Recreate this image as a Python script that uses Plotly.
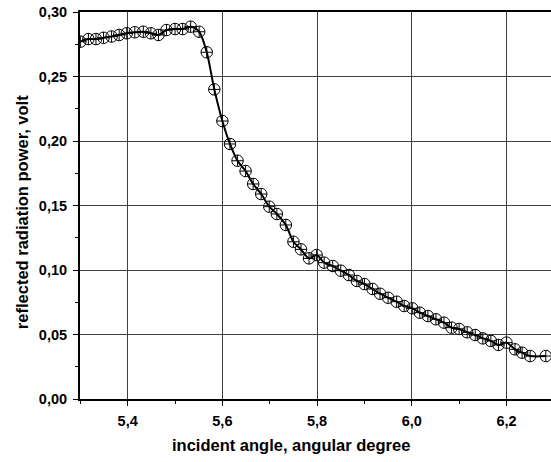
import plotly.graph_objects as go

angle = [5.300, 5.317, 5.333, 5.349, 5.366, 5.382, 5.398, 5.415, 5.433, 5.449,
         5.465, 5.482, 5.500, 5.516, 5.533, 5.551, 5.567, 5.583, 5.600, 5.616,
         5.632, 5.649, 5.665, 5.682, 5.699, 5.715, 5.734, 5.750, 5.766, 5.783,
         5.799, 5.815, 5.833, 5.850, 5.867, 5.884, 5.900, 5.917, 5.933, 5.950,
         5.968, 5.984, 6.001, 6.017, 6.034, 6.051, 6.068, 6.084, 6.100, 6.117,
         6.134, 6.150, 6.167, 6.183, 6.200, 6.218, 6.233, 6.250, 6.283]
power = [0.2770, 0.2790, 0.2790, 0.2800, 0.2810, 0.2822, 0.2835, 0.2843, 0.2847, 0.2835,
         0.2822, 0.2860, 0.2868, 0.2868, 0.2886, 0.2847, 0.2688, 0.2400, 0.2155, 0.1977,
         0.1847, 0.1767, 0.1667, 0.1589, 0.1491, 0.1434, 0.1349, 0.1219, 0.1160, 0.1090,
         0.1116, 0.1057, 0.1031, 0.0995, 0.0961, 0.0915, 0.0891, 0.0853, 0.0816, 0.0785,
         0.0754, 0.0721, 0.0703, 0.0669, 0.0643, 0.0618, 0.0592, 0.0553, 0.0543, 0.0517,
         0.0496, 0.0470, 0.0450, 0.0419, 0.0437, 0.0385, 0.0359, 0.0333, 0.0333]

x_title = "incident angle, angular degree"
y_title = "reflected radiation power, volt"

FONT = "Liberation Sans, Arial, sans-serif"

fig = go.Figure()
fig.add_trace(go.Scatter(
    x=angle, y=power, mode="lines+markers",
    line=dict(color="black", width=2, shape="spline", smoothing=0.8),
    marker=dict(symbol="circle-cross-open", size=11.5, color="black",
                line=dict(color="black", width=1)),
    showlegend=False,
))

axis_common = dict(
    showgrid=True, gridcolor="#404040", gridwidth=1,
    showline=True, linecolor="black",
    ticks="outside", ticklen=5, tickwidth=1, tickcolor="black",
    zeroline=False, ticklabelstandoff=3,
    tickfont=dict(family=FONT, size=14.5, color="black", weight="bold"),
)

fig.update_xaxes(
    range=[5.2993, 6.294], tick0=5.4, dtick=0.2, tickformat=".1f",
    linewidth=1.5, mirror=True,
    minor=dict(ticks="outside", ticklen=3, dtick=0.1, tick0=5.3,
               tickcolor="black", showgrid=False),
    **axis_common,
)
fig.update_yaxes(
    range=[0, 0.30], tick0=0, dtick=0.05, tickformat=".2f",
    linewidth=2, mirror=False,
    minor=dict(ticks="outside", ticklen=3, dtick=0.025,
               tickcolor="black", showgrid=False),
    **axis_common,
)

fig.update_layout(
    width=551, height=462,
    margin=dict(l=80, r=0, t=12, b=63),
    plot_bgcolor="white", paper_bgcolor="white",
    separators=", ",
    font=dict(family=FONT, color="black"),
    annotations=[
        dict(text=x_title, xref="paper", yref="paper", x=0.448, y=-0.118,
             xanchor="center", yanchor="middle", showarrow=False,
             font=dict(family=FONT, size=16.5, color="black", weight="bold")),
        dict(text=y_title, xref="paper", yref="paper", x=-0.123, y=0.483,
             xanchor="center", yanchor="middle", showarrow=False, textangle=-90,
             font=dict(family=FONT, size=16.5, color="black", weight="bold")),
    ],
)

fig.write_html(
    "out.html",
    config={"displayModeBar": False},
    post_script="document.body.style.margin='0';document.body.style.overflow='hidden';",
)
